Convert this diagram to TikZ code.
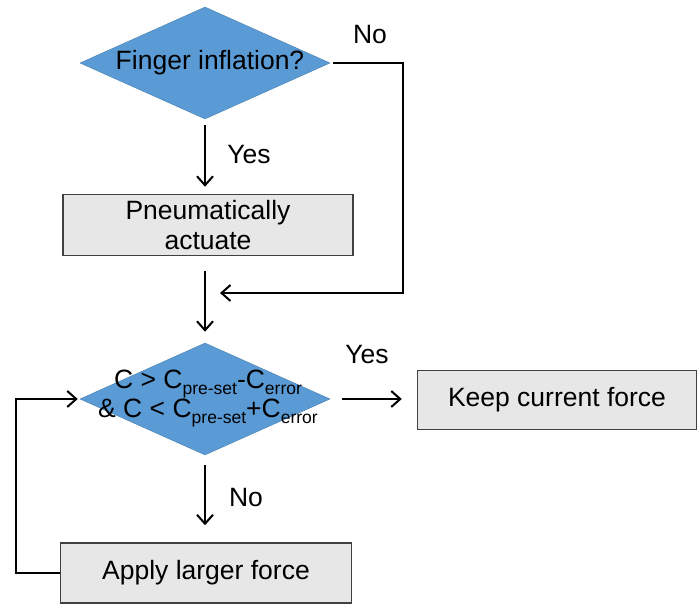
\documentclass[tikz,border=0pt]{standalone}
\usepackage{fontspec}
\setmainfont{Liberation Sans}
\usetikzlibrary{shapes.geometric,arrows.meta}
\newdimen\unitsize
\setlength{\unitsize}{1pt}
\definecolor{diablue}{HTML}{5B9BD5}
\definecolor{boxgray}{HTML}{E7E7E7}
\definecolor{boxline}{HTML}{404040}
\newcommand{\lowtext}[1]{\raisebox{-6pt}{\fontsize{17.5}{18}\selectfont #1}}

\begin{document}
\begin{tikzpicture}[x=\unitsize,y=\unitsize,baseline=0,font=\fontsize{26.5}{30}\selectfont]
\tikzset{decision/.style={diamond, fill=diablue, draw=diablue!85!black, line width=0.5pt, minimum width=250\unitsize, minimum height=112\unitsize, inner sep=0pt}}%
\tikzset{process/.style={rectangle, fill=boxgray, draw=boxline, line width=1.5pt, align=center, inner sep=0pt}}%
\tikzset{edge/.style={line width=2pt, -{Straight Barb[length=9pt,width=16pt]}}}%
\useasboundingbox (0,0) rectangle (698,605);
% boxes and decisions
\node[decision, label={[xshift=5pt]center:Finger inflation?}] (dia1) at (205,542) {};
\node[process, minimum width=290\unitsize, minimum height=61\unitsize] (pneu) at (208,380) {Pneumatically\\actuate};
\node[decision, label={[align=center, xshift=3pt, font=\fontsize{26.5}{29}\selectfont]center:C > C\lowtext{pre-set}-C\lowtext{error}\\\& C < C\lowtext{pre-set}+C\lowtext{error}}] (dia2) at (205,206) {};
\node[process, minimum width=279\unitsize, minimum height=59\unitsize] (keep) at (557,205) {Keep current force};
\node[process, minimum width=291\unitsize, minimum height=60\unitsize] (apply) at (206,32) {Apply larger force};
% answers
\node (yes1) at (249,450) {Yes};
\node (no1) at (370,570) {No};
\node (yes2) at (367,250) {Yes};
\node (no2) at (246,107) {No};
% turning points
\coordinate (noturn) at (403,542);
\coordinate (join) at (205,312);
\coordinate (loopturn) at (16,32);
% connectors
\draw[edge, shorten <=6pt, shorten >=7pt] (dia1.south) -- (dia1.south |- pneu.north);
\draw[edge, shorten <=3pt, shorten >=15pt] (dia1.east) -- (noturn) |- (join);
\draw[edge, shorten <=15pt, shorten >=11pt] (pneu.south -| dia2.north) -- (dia2.north);
\draw[edge, shorten <=12pt, shorten >=15pt] (dia2.east) -- (dia2.east -| keep.west);
\draw[edge, shorten <=10pt, shorten >=17pt] (dia2.south) -- (dia2.south |- apply.north);
\draw[edge, shorten >=2pt] (apply.west) -- (loopturn) |- (dia2.west);
\end{tikzpicture}
\end{document}
